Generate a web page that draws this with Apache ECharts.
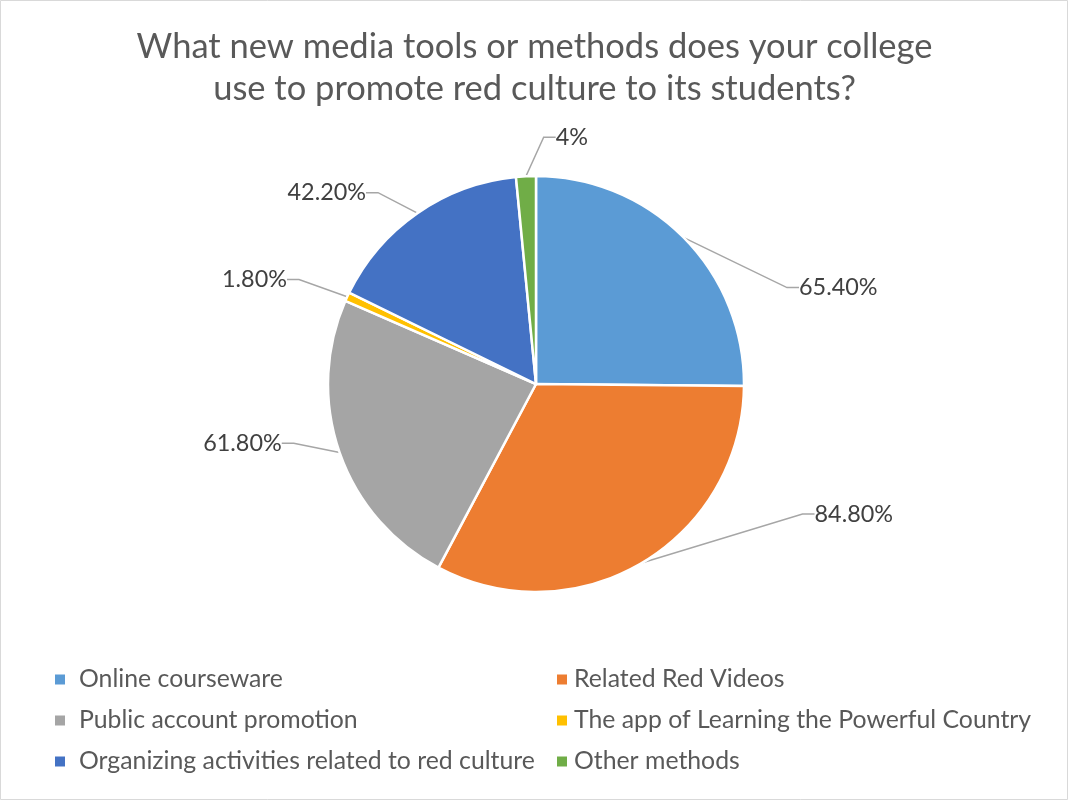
<!DOCTYPE html>
<html><head><meta charset="utf-8">
<script src="https://cdn.jsdelivr.net/npm/echarts@6/dist/echarts.min.js"></script>
<style>html,body{margin:0;padding:0;background:#fff}#c{width:1069px;height:801px}</style>
</head><body><div id="c"></div>
<script>
const categories = ["Online courseware","Related Red Videos","Public account promotion","The app of Learning the Powerful Country","Organizing activities related to red culture","Other methods"];
const values = [65.4, 84.8, 61.8, 1.8, 42.2, 4];
const labelTexts = ["65.40%","84.80%","61.80%","1.80%","42.20%","4%"];
const colors = ["#5B9BD5","#ED7D31","#A5A5A5","#FFC000","#4472C4","#70AD47"];
// label offsets (dx, dy) from the default outside position, to mimic best-fit placement
const labelShift = [[84,64],[145,-66],[-22,-16],[-25,-9],[-23,-4],[80,-19]];

const chart = echarts.init(document.getElementById('c'));
const font = 'Lato, "Open Sans", sans-serif';
const data = categories.map((n,i)=>({
  name:n, value:values[i],
  itemStyle:{color:colors[i]},
  label:{formatter:labelTexts[i]}
}));
chart.setOption({
  animation:false,
  backgroundColor:'#fff',
  graphic:[{type:'rect',shape:{x:0.5,y:0.5,width:1067,height:799},style:{fill:'none',stroke:'#D9D9D9',lineWidth:1}}],
  title:{
    text:'What new media tools or methods does your college\nuse to promote red culture to its students?',
    left:'center', top:21,
    textStyle:{fontFamily:font,fontSize:34.5,fontWeight:'normal',color:'#595959',lineHeight:42}
  },
  legend:[
    {data:[categories[0],categories[2],categories[4]], orient:'vertical', left:48, top:662, itemGap:16, itemWidth:12, itemHeight:12, icon:'rect',
     textStyle:{fontFamily:font,fontSize:24.8,color:'#595959',padding:[0,0,0,8]}},
    {data:[categories[1],categories[3],categories[5]], orient:'vertical', left:550, top:662, itemGap:16, itemWidth:12, itemHeight:12, icon:'rect',
     textStyle:{fontFamily:font,fontSize:24.8,color:'#595959',padding:[0,0,0,1]}}
  ],
  series:[{
    type:'pie', center:[536,384], radius:208, startAngle:90, clockwise:true,
    itemStyle:{borderColor:'#fff',borderWidth:2.5},
    label:{show:true,position:'outside',fontFamily:font,fontSize:23.4,color:'#404040',distanceToLabelLine:5},
    labelLine:{show:true,length:20,length2:12,lineStyle:{color:'#A6A6A6',width:1.5}},
    labelLayout:function(p){
      const s=labelShift[p.dataIndex], r=p.labelRect;
      const ax = p.align==='right' ? r.x+r.width : (p.align==='center' ? r.x+r.width/2 : r.x);
      const ay = p.verticalAlign==='middle' ? r.y+r.height/2 : (p.verticalAlign==='bottom' ? r.y+r.height : r.y);
      return {x:ax+s[0], y:ay+s[1]};
    },
    emphasis:{disabled:true},
    data:data
  }]
});
</script></body></html>
